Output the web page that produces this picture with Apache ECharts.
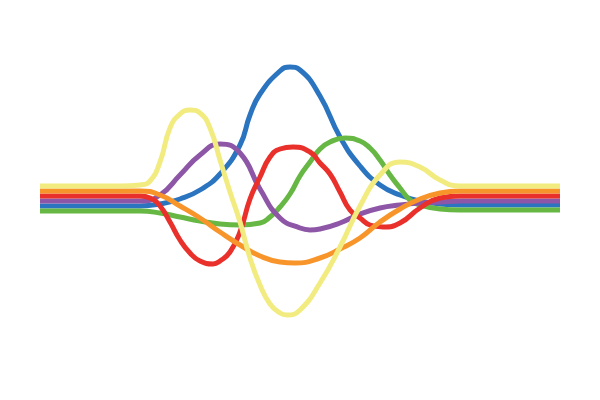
<!DOCTYPE html>
<html lang="en">
    <head>
        <meta charset="UTF-8">
        <title>rainbow lines</title>
        <script src="https://cdn.jsdelivr.net/npm/echarts@6/dist/echarts.min.js"></script>
        <style>
            html, body { margin: 0; padding: 0; background: #fff; }
        </style>
    </head>
    <body>
        <div id="Main" style="width: 600px; height: 400px;"></div>

        <script type="text/javascript">
            // values, x in tenths of the centre, y up from the middle
            var blueX   = [-26, -16, -14, -12, -10, -8, -6, -5, -4, -2, -1, 0, 2, 4, 6, 8, 10, 12, 14, 16, 26];
            var blueY   = [-6, -6, -4, 1, 10, 26, 55, 85, 106, 129, 133, 130, 104, 63, 34, 15, 5, -1, -4, -5, -5];

            var greenX  = [-26, -16, -14, -12, -10, -8, -6, -4, -3, -2, -1, 0, 1, 2, 3, 4.5, 6, 7, 8, 9, 10, 11, 12, 14, 16, 26];
            var greenY  = [-11, -11, -13, -17, -21, -24, -25, -23, -17, -7, 6, 24, 38, 51, 58, 62, 59, 52, 40, 25, 12, 0, -5, -9, -10, -10];

            var purpleX = [-26, -16, -14, -12, -10, -8, -6, -4, -2, 0, 1, 2, 4, 6, 8, 10, 12, 14, 16, 26];
            var purpleY = [-1, -1, 5, 25, 45, 56, 47, 11, -18, -28, -30, -29, -23, -14, -8, -5, -3, -2, -1, -1];

            var redX    = [-26, -16, -15, -14, -13, -12, -11, -10, -8.7, -8, -7, -6, -5, -4, -3, -2, -0.7, 1, 2, 3, 4, 5, 6, 7, 8.3, 10, 12, 14, 16, 26];
            var redY    = [4, 4, 2, -6, -22, -40, -53, -61, -64, -61, -52, -32, 1, 23, 43, 51, 53, 48, 37, 26, 8, -10, -18, -25, -27, -23, -8, 2, 4, 4];

            var orangeX = [-26, -16, -14, -12, -10, -8, -6, -4, -2, -0.5, 2, 4, 6, 8, 10, 12, 14, 16, 26];
            var orangeY = [9, 9, 5, -6, -18, -32, -45, -56, -62, -63, -58, -49, -38, -22, -9, 1, 7, 9, 9];

            var yellowX = [-26, -18, -16, -15, -14, -13, -12, -11, -10, -9, -8, -7, -6, -5, -4, -3, -2, -1.3, 0, 2, 4, 6, 8, 10, 12, 14, 16, 26];
            var yellowY = [14, 14, 15, 19, 38, 72, 86, 90, 87, 72, 40, 8, -22, -58, -85, -104, -113, -115, -110, -83, -47, -6, 25, 38, 33, 20, 14, 14];

            function pairs(xs, ys) {
                var out = [];
                for (var i = 0; i < xs.length; i++) {
                    out.push([xs[i], ys[i]]);
                }
                return out;
            }

            function line(name, color, xs, ys) {
                return {
                    name: name,
                    type: 'line',
                    smooth: true,
                    showSymbol: false,
                    data: pairs(xs, ys),
                    lineStyle: { width: 5, color: color },
                    itemStyle: { color: color }
                };
            }

            var myChart = echarts.init(document.getElementById('Main'));
            myChart.setOption({
                animation: false,
                grid: { left: 40, right: 40, top: 0, bottom: 0 },
                xAxis: { type: 'value', min: -26, max: 26, show: false },
                yAxis: { type: 'value', min: -200, max: 200, show: false },
                // later series lie on top
                series: [
                    line('blue', '#2b74c0', blueX, blueY),
                    line('green', '#66b743', greenX, greenY),
                    line('purple', '#8e56a6', purpleX, purpleY),
                    line('red', '#e9302a', redX, redY),
                    line('orange', '#f8952a', orangeX, orangeY),
                    line('yellow', '#f2ec80', yellowX, yellowY)
                ]
            });
        </script>
    </body>
</html>
